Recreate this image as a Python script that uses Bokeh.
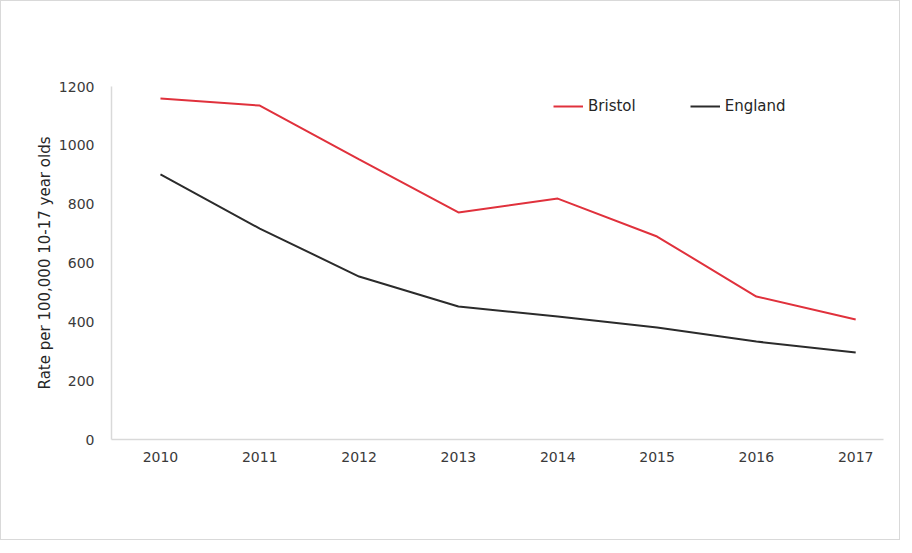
from bokeh.plotting import figure
from bokeh.models import Range1d, FixedTicker, Legend, LegendItem
from bokeh.embed import file_html
from bokeh.resources import INLINE

years = [2010, 2011, 2012, 2013, 2014, 2015, 2016, 2017]
bristol = [1159, 1135, 952, 772, 819, 690, 486, 408]
england = [901, 717, 554, 452, 418, 381, 333, 296]
y_ticks = [0, 200, 400, 600, 800, 1000, 1200]
y_label = "Rate per 100,000 10-17 year olds"

p = figure(width=900, height=540, output_backend="svg", toolbar_location=None,
           x_range=Range1d(2009.507, 2017.28), y_range=Range1d(0, 1200),
           min_border_left=110, min_border_right=18, min_border_top=85, min_border_bottom=102)
p.styles = {"border": "1px solid #d9d9d9", "box-sizing": "border-box"}
p.outline_line_color = None
p.xgrid.visible = False
p.ygrid.visible = False

FONT = "DejaVu Sans"
for ax in (p.xaxis[0], p.yaxis[0]):
    ax.axis_line_color = "#d9d9d9"
    ax.axis_line_width = 1.5
    ax.major_tick_line_color = None
    ax.minor_tick_line_color = None
    ax.major_label_text_font = FONT
    ax.major_label_text_font_size = "14px"
    ax.major_label_text_color = "#3a3a3a"

p.xaxis.ticker = FixedTicker(ticks=years)
p.xaxis.major_label_standoff = 6
p.yaxis.ticker = FixedTicker(ticks=y_ticks)
p.yaxis.major_label_standoff = 11
p.yaxis.axis_label = y_label
p.yaxis.axis_label_text_font = FONT
p.yaxis.axis_label_text_font_style = "normal"
p.yaxis.axis_label_text_font_size = "15px"
p.yaxis.axis_label_text_color = "#262626"
p.yaxis.axis_label_standoff = 2

r1 = p.line(years, bristol, line_color="#e0313c", line_width=2)
r2 = p.line(years, england, line_color="#2b2b2b", line_width=2)

legend = Legend(items=[LegendItem(label="Bristol", renderers=[r1]),
                       LegendItem(label="England", renderers=[r2])],
                orientation="horizontal", location=(442, 323),
                border_line_color=None, background_fill_alpha=0,
                padding=0, margin=0, spacing=54, glyph_width=30, glyph_height=20,
                label_height=20, label_standoff=5, label_text_font=FONT,
                label_text_font_size="15px", label_text_color="#262626")
p.add_layout(legend, "center")

open("out.html", "w").write(file_html(p, INLINE))
